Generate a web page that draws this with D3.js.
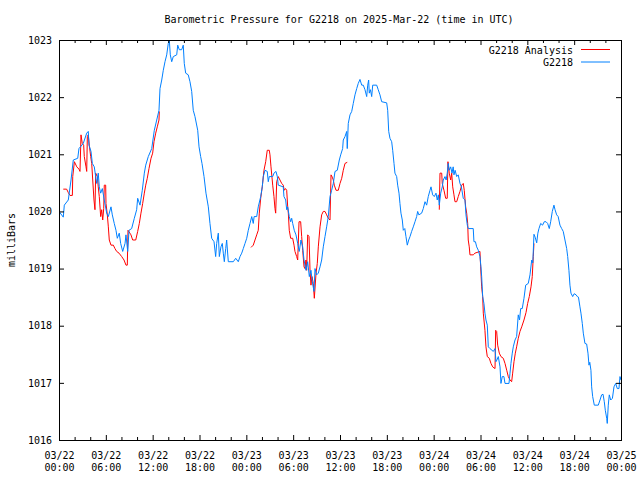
<!DOCTYPE html>
<html><head><meta charset="utf-8">
<script src="https://cdn.jsdelivr.net/npm/d3@7"></script>
<style>
html,body{margin:0;padding:0;background:#fff;}
svg{display:block;}
text{font-family:"DejaVu Sans Mono",monospace;font-size:10px;fill:#000;}
</style></head><body>
<svg id="chart" width="640" height="480"></svg>
<script>
// ---- data (hours since 03/22 00:00 UTC, pressure in milliBars) ----
const blueHours = [0.0,0.55,0.68,1.19,1.54,1.83,2.40,2.56,3.11,3.55,3.75,3.84,4.10,4.27,4.52,4.70,4.83,5.03,5.16,5.34,5.55,5.80,6.11,6.32,6.66,6.83,7.08,7.30,7.47,7.72,7.90,8.16,8.46,8.58,8.80,8.97,9.31,9.65,9.95,10.08,10.38,10.67,10.93,11.11,11.44,11.88,12.21,12.52,12.81,12.94,13.16,13.36,13.58,13.80,14.00,14.13,14.26,14.44,14.64,15.08,15.21,15.41,15.72,15.92,16.05,16.23,16.56,16.78,17.00,17.20,17.42,17.77,17.94,18.15,18.32,18.58,18.83,19.13,19.34,19.56,19.86,20.07,20.20,20.41,20.54,20.75,20.92,21.05,21.18,21.36,21.48,21.69,22.33,22.64,22.97,23.19,23.41,23.61,23.83,24.05,24.25,24.47,24.69,24.89,25.0,25.33,25.53,25.84,26.04,26.17,26.39,26.68,26.81,26.94,27.38,27.54,27.80,27.97,28.09,28.73,28.82,29.04,29.17,29.30,29.50,29.68,29.81,29.94,30.14,30.36,30.58,30.78,31.00,31.22,31.39,31.64,31.86,32.07,32.28,32.45,32.67,32.80,33.01,33.22,33.44,33.65,33.86,34.08,34.29,34.50,34.72,34.93,35.14,35.36,35.65,35.91,36.09,36.34,36.42,36.64,36.86,36.93,37.06,37.28,37.50,37.70,37.92,38.14,38.34,38.56,38.78,38.98,39.20,39.42,39.55,39.67,39.75,39.90,40.06,40.19,40.70,40.90,41.12,41.34,41.98,42.11,42.24,42.40,42.62,42.75,42.92,43.04,43.26,43.39,43.56,43.68,43.81,43.98,44.11,44.30,44.45,44.62,44.80,44.97,45.18,45.39,45.61,45.82,45.95,46.10,46.46,46.67,46.89,47.10,47.31,47.53,47.66,47.87,48.08,48.30,48.46,48.60,48.72,48.90,49.10,49.23,49.45,49.60,49.74,49.87,50.00,50.18,50.35,50.50,50.60,50.75,50.95,51.15,51.37,51.55,51.79,52.01,52.14,52.31,52.43,53.07,53.16,53.35,53.51,53.72,53.93,54.06,54.15,54.28,54.44,54.57,54.70,54.87,55.00,55.21,55.64,55.86,55.98,56.10,56.28,56.50,56.62,56.79,57.00,57.14,57.65,57.78,57.90,58.07,58.20,58.42,58.63,58.84,59.00,59.15,59.35,59.57,59.79,60.12,60.34,60.56,60.70,60.85,61.00,61.20,61.35,61.49,61.71,61.95,62.17,62.39,62.60,62.81,62.99,63.20,63.41,63.55,63.76,63.95,64.18,64.40,64.60,64.82,65.04,65.17,65.33,65.46,65.59,65.81,66.00,66.25,66.40,66.55,66.74,66.87,67.04,67.17,67.38,67.60,67.77,67.90,68.00,68.15,68.24,68.37,68.58,69.09,69.31,69.52,69.70,69.86,69.99,70.17,70.24,70.37,70.50,70.68,70.90,71.10,71.32,71.52,71.74,71.87,72.0];
const blueValues = [1020.00,1019.90,1020.11,1020.20,1020.55,1020.90,1020.93,1021.10,1021.19,1021.37,1021.40,1021.16,1021.05,1020.84,1020.78,1020.61,1020.49,1020.67,1020.43,1020.32,1020.40,1020.20,1019.97,1019.91,1020.08,1019.94,1019.79,1019.67,1019.53,1019.62,1019.44,1019.30,1019.44,1019.59,1019.30,1019.67,1019.70,1019.88,1020.03,1020.23,1020.11,1020.37,1020.67,1020.81,1020.96,1021.10,1021.42,1021.60,1021.77,1022.15,1022.30,1022.47,1022.62,1022.74,1022.94,1023.00,1022.74,1022.62,1022.71,1022.74,1022.91,1022.83,1022.83,1022.91,1022.59,1022.42,1022.39,1022.27,1022.10,1021.77,1021.66,1021.42,1021.13,1020.96,1020.84,1020.61,1020.32,1020.08,1019.79,1019.53,1019.47,1019.21,1019.44,1019.62,1019.21,1019.38,1019.44,1019.27,1019.12,1019.35,1019.50,1019.12,1019.12,1019.18,1019.12,1019.21,1019.27,1019.35,1019.44,1019.53,1019.67,1019.79,1019.91,1019.79,1019.91,1019.91,1020.08,1020.26,1020.43,1020.61,1020.72,1020.70,1020.52,1020.61,1020.61,1020.67,1020.70,1020.61,1020.46,1020.43,1020.26,1020.20,1020.03,1020.08,1019.91,1019.82,1019.88,1019.79,1019.67,1019.59,1019.44,1019.30,1019.50,1019.38,1019.15,1018.97,1019.12,1018.86,1018.97,1018.77,1018.60,1019.00,1018.89,1018.92,1019.03,1019.15,1019.38,1019.56,1019.73,1019.91,1020.26,1020.37,1020.49,1020.70,1020.72,1020.90,1020.99,1021.10,1021.25,1021.31,1021.40,1021.10,1021.54,1021.69,1021.75,1021.89,1022.04,1022.15,1022.24,1022.31,1022.21,1022.21,1022.13,1022.01,1022.21,1022.30,1022.07,1022.13,1022.01,1022.21,1022.21,1022.13,1022.04,1021.92,1021.90,1021.77,1021.40,1021.28,1021.22,1021.07,1020.84,1020.67,1020.61,1020.46,1020.32,1020.14,1019.97,1019.85,1019.67,1019.70,1019.56,1019.41,1019.50,1019.56,1019.65,1019.73,1019.82,1019.91,1020.00,1019.94,1019.97,1020.05,1020.17,1020.11,1020.26,1020.37,1020.43,1020.29,1020.26,1020.32,1020.20,1020.29,1020.11,1020.32,1020.43,1020.55,1020.61,1020.55,1020.67,1020.84,1020.72,1020.78,1020.67,1020.78,1020.64,1020.72,1020.61,1020.64,1020.49,1020.43,1020.23,1020.20,1019.94,1019.76,1019.70,1019.70,1019.47,1019.47,1019.38,1019.32,1019.21,1019.03,1018.86,1018.51,1018.39,1018.22,1018.10,1018.01,1017.63,1017.60,1017.55,1017.60,1017.37,1017.40,1017.46,1017.28,1016.99,1017.11,1017.11,1016.99,1016.99,1017.17,1017.34,1017.52,1017.63,1017.75,1017.81,1018.19,1018.10,1018.30,1018.30,1018.48,1018.71,1018.74,1018.89,1019.15,1019.10,1019.60,1019.55,1019.45,1019.62,1019.70,1019.79,1019.76,1019.82,1019.82,1019.79,1019.70,1019.82,1020.00,1020.11,1020.03,1019.94,1019.91,1019.76,1019.70,1019.65,1019.50,1019.35,1019.21,1018.97,1018.71,1018.57,1018.51,1018.56,1018.54,1018.51,1018.50,1018.33,1018.22,1018.04,1017.87,1017.69,1017.68,1017.52,1017.31,1017.36,1017.22,1016.93,1016.76,1016.61,1016.61,1016.70,1016.79,1016.80,1016.67,1016.52,1016.38,1016.29,1016.61,1016.79,1016.70,1016.73,1016.93,1016.99,1016.90,1016.90,1017.11,1017.05];

// analysis series: null marks a gap between runs
const redHours = [0.55,0.98,1.19,1.41,1.71,1.76,1.97,2.28,2.56,2.69,2.82,2.98,3.16,3.24,3.46,3.55,3.63,3.75,3.88,4.06,4.19,4.32,4.48,4.61,4.70,4.91,5.03,5.16,5.34,5.47,5.60,5.73,5.80,5.98,6.02,6.19,6.32,6.44,6.66,6.96,7.17,7.39,7.69,8.03,8.33,8.58,8.75,8.84,9.22,9.44,9.83,10.08,10.29,10.50,10.72,10.93,11.11,11.31,11.53,11.79,12.00,12.17,12.39,12.59,12.81,12.85,
 18.0,
 24.60,24.89,25.11,25.33,25.53,25.66,25.84,26.04,26.26,26.48,26.68,26.94,27.03,27.16,27.38,27.54,27.67,27.76,27.89,28.09,28.31,28.53,28.73,28.86,29.02,29.17,29.30,29.38,29.50,29.68,29.94,30.11,30.23,30.45,30.58,30.75,30.96,31.09,31.22,31.39,31.51,31.64,31.73,31.86,32.03,32.16,32.28,32.41,32.58,32.71,32.93,33.09,33.22,33.44,33.65,33.86,34.08,34.29,34.50,34.72,34.85,35.01,35.14,35.27,35.49,35.78,36.00,36.22,36.42,36.64,36.93,
 42.0,
 48.72,48.81,49.03,49.10,49.32,49.54,49.74,49.83,50.00,50.18,50.31,50.44,50.60,50.73,50.95,51.15,51.37,51.59,51.79,51.92,52.10,52.23,52.36,52.43,52.56,52.65,53.07,53.29,53.93,54.02,54.15,54.28,54.36,54.57,54.70,54.87,55.13,55.34,55.56,55.86,55.94,56.07,56.20,56.41,56.62,56.92,57.14,57.36,57.56,57.78,57.99,58.12,58.29,58.46,58.63,58.84,59.06,59.28,59.57,59.83,60.04,60.25,60.47,60.63,60.76,60.85];
const redValues = [1020.39,1020.39,1020.33,1020.28,1020.28,1020.61,1020.87,1020.78,1020.74,1020.70,1021.34,1021.19,1021.16,1020.96,1020.78,1020.70,1021.31,1021.34,1021.16,1020.96,1020.84,1020.55,1020.20,1020.03,1020.67,1020.61,1020.43,1020.26,1019.91,1020.03,1019.85,1020.05,1020.46,1020.46,1020.14,1019.94,1019.73,1019.50,1019.41,1019.41,1019.35,1019.30,1019.27,1019.21,1019.15,1019.06,1019.06,1019.67,1019.59,1019.50,1019.50,1019.65,1019.79,1019.97,1020.14,1020.32,1020.46,1020.58,1020.75,1020.93,1021.02,1021.22,1021.37,1021.48,1021.60,1021.75,
 null,
 1019.37,1019.41,1019.50,1019.59,1019.67,1019.97,1020.23,1020.43,1020.72,1020.87,1021.07,1021.07,1020.99,1020.78,1020.46,1020.26,1020.05,1019.97,1020.52,1020.61,1020.55,1020.49,1020.46,1020.37,1020.40,1020.37,1020.08,1019.97,1019.67,1019.53,1019.53,1019.41,1019.30,1019.21,1019.15,1019.82,1019.82,1019.56,1019.32,1019.03,1019.00,1019.15,1018.97,1019.59,1019.56,1018.97,1018.71,1018.86,1018.74,1018.48,1018.92,1019.09,1019.38,1019.73,1019.94,1020.00,1020.00,1019.94,1019.88,1019.85,1020.64,1020.60,1020.55,1020.46,1020.37,1020.37,1020.49,1020.58,1020.72,1020.84,1020.86,
 null,
 1020.03,1020.67,1020.67,1020.49,1020.37,1020.23,1020.23,1020.87,1020.67,1020.55,1020.67,1020.43,1020.29,1020.17,1020.17,1020.26,1020.35,1020.46,1020.49,1020.37,1020.08,1019.97,1019.79,1019.50,1019.38,1019.24,1019.24,1019.27,1019.30,1019.03,1018.68,1018.51,1018.22,1017.92,1017.63,1017.46,1017.43,1017.34,1017.28,1017.25,1017.92,1017.90,1017.66,1017.52,1017.46,1017.43,1017.34,1017.22,1017.11,1017.05,1017.02,1017.17,1017.37,1017.52,1017.63,1017.78,1017.90,1017.98,1018.10,1018.23,1018.39,1018.51,1018.68,1018.86,1019.21,1019.44];

const xMajorTicks = [0,6,12,18,24,30,36,42,48,54,60,66,72];
const xMinorTicks = [2,4,8,10,14,16,20,22,26,28,32,34,38,40,44,46,50,52,56,58,62,64,68,70];
const xTickDates = ["03/22","03/22","03/22","03/22","03/23","03/23","03/23","03/23","03/24","03/24","03/24","03/24","03/25"];
const xTickTimes = ["00:00","06:00","12:00","18:00","00:00","06:00","12:00","18:00","00:00","06:00","12:00","18:00","00:00"];
const yTicks = [1016,1017,1018,1019,1020,1021,1022,1023];
const seriesNames = ["G2218 Analysis","G2218"];
const seriesColors = ["#ff0000","#0080ff"];
const titleText = "Barometric Pressure for G2218 on 2025-Mar-22 (time in UTC)";
const yLabel = "milliBars";

// ---- layout ----
const L = 59, R = 621, T = 40, B = 440;
const svg = d3.select("#chart");
const x = d3.scaleLinear().domain([0,72]).range([L,R]);
const y = d3.scaleLinear().domain([1016,1023]).range([B,T]);

// series
const blue = blueHours.map((h,i)=>({h, v: blueValues[i]}));
const red = redHours.map((h,i)=>({h, v: redValues[i]}));
const line = d3.line().defined(d=>d.v!=null).x(d=>x(d.h)).y(d=>y(d.v));

svg.append("clipPath").attr("id","pc").append("rect")
  .attr("x",L).attr("y",T-1).attr("width",R-L+1).attr("height",B-T+2);

svg.append("path").datum(red).attr("d",line).attr("fill","none")
  .attr("stroke",seriesColors[0]).attr("stroke-width",1).attr("clip-path","url(#pc)");
svg.append("path").datum(blue).attr("d",line).attr("fill","none")
  .attr("stroke",seriesColors[1]).attr("stroke-width",1).attr("clip-path","url(#pc)");

// axes
function strip(g){ g.select(".domain").remove(); g.selectAll(".tick line").attr("stroke","#000"); }
svg.append("g").attr("transform",`translate(0,${B})`)
  .call(d3.axisBottom(x).tickValues(xMinorTicks).tickSizeInner(-3).tickSizeOuter(0).tickFormat(""))
  .call(strip);
svg.append("g").attr("transform",`translate(0,${T})`)
  .call(d3.axisTop(x).tickValues(xMinorTicks).tickSizeInner(-3).tickSizeOuter(0).tickFormat(""))
  .call(strip);
svg.append("g").attr("transform",`translate(0,${T})`)
  .call(d3.axisTop(x).tickValues(xMajorTicks).tickSizeInner(-5).tickSizeOuter(0).tickFormat(""))
  .call(strip);
const bx = svg.append("g").attr("transform",`translate(0,${B})`)
  .call(d3.axisBottom(x).tickValues(xMajorTicks).tickSizeInner(-5).tickSizeOuter(0).tickPadding(6).tickFormat(""))
  .call(strip);
bx.selectAll(".tick text").each(function(d,i){
  const t = d3.select(this).attr("font-family",null).attr("font-size",null).attr("y",null).attr("dy",null);
  t.append("tspan").attr("x",0).attr("y",19).text(xTickDates[i]);
  t.append("tspan").attr("x",0).attr("y",31).text(xTickTimes[i]);
});
svg.append("g").attr("transform",`translate(${L},0)`)
  .call(d3.axisLeft(y).tickValues(yTicks).tickSizeInner(-5).tickSizeOuter(0).tickPadding(7).tickFormat(d3.format("d")))
  .call(strip)
  .selectAll(".tick text").attr("font-family",null).attr("font-size",null);
svg.append("g").attr("transform",`translate(${R},0)`)
  .call(d3.axisRight(y).tickValues(yTicks).tickSizeInner(-5).tickSizeOuter(0).tickFormat(""))
  .call(strip);

// frame
svg.append("rect").attr("x",L+0.5).attr("y",T+0.5).attr("width",R-L).attr("height",B-T)
  .attr("fill","none").attr("stroke","#000").attr("stroke-width",1);

// title and y label
svg.append("text").attr("x",339).attr("y",23).attr("text-anchor","middle").text(titleText);
svg.append("text").attr("transform","translate(15,240) rotate(-90)").attr("text-anchor","middle").text(yLabel);

// legend
const leg = svg.append("g");
seriesNames.forEach((n,i)=>{
  const yy = 50 + i*12.5;
  leg.append("text").attr("x",573).attr("y",yy+3.5).attr("text-anchor","end").text(n);
  leg.append("line").attr("x1",581).attr("x2",610).attr("y1",yy-0.5).attr("y2",yy-0.5)
    .attr("stroke",seriesColors[i]).attr("stroke-width",1);
});
</script>
</body></html>
